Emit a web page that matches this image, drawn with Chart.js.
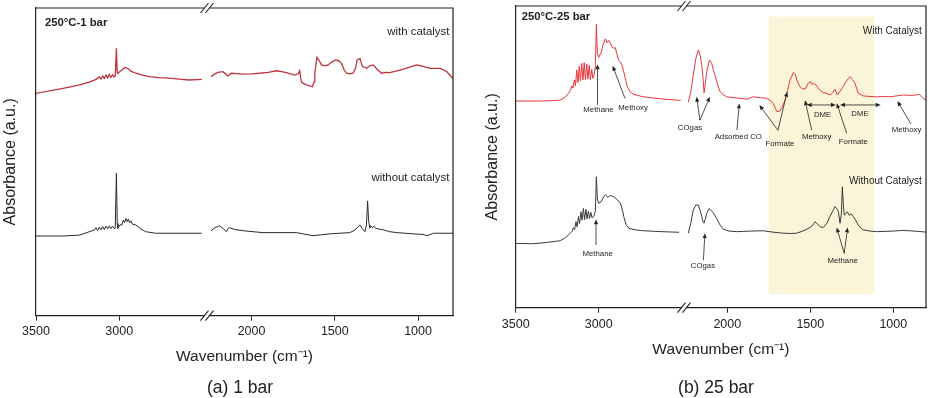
<!DOCTYPE html>
<html><head><meta charset="utf-8">
<script src="https://cdn.jsdelivr.net/npm/chart.js@4.4.1/dist/chart.umd.min.js"></script>
<style>
html,body{margin:0;padding:0;background:#fff;}
#wrap{position:relative;width:933px;height:398px;overflow:hidden;background:#fff;}
canvas{position:absolute;top:0;}
#cA{left:0;} #cB{left:470px;}
.cap{position:absolute;font-family:"Liberation Sans",Arial,Helvetica,sans-serif;font-size:17.5px;color:#222;transform:translate(-50%,-50%);white-space:nowrap;line-height:1;}
</style></head><body>
<div id="wrap">
<canvas id="cA" width="470" height="398"></canvas>
<canvas id="cB" width="463" height="398"></canvas>
<div class="cap" style="left:240px;top:388px">(a) 1 bar</div>
<div class="cap" style="left:716px;top:388px">(b) 25 bar</div>
</div>
<script>
const FONT = '"Liberation Sans", Arial, Helvetica, sans-serif';
Chart.defaults.font.family = FONT;

const tickWavenumbers = [3500, 3000, 2000, 1500, 1000];

// ---- Panel (a) 250°C-1 bar ----
const aCatHiWn = [3500,3496,3337,3238,3180,3139,3120,3110,3100,3090,3080,3070,3060,3050,3040,3030,3024,3017,3012,3008,2990,2975,2960,2945,2930,2901,2860,2821,2760,2702,2640,2583,2504];
const aCatHiAbs = [72.2,72.3,73.9,75.0,75.9,76.8,77.6,76.9,77.9,77.1,78.2,77.3,78.4,77.5,78.3,77.6,78.0,86.9,79.0,78.8,79.6,80.3,80.7,80.2,79.5,78.8,78.2,77.7,77.4,77.2,76.9,76.6,76.8];
const aCatLoWn = [2243,2220,2203,2173,2155,2143,2122,2090,2052,2000,1952,1900,1851,1820,1791,1760,1741,1720,1711,1701,1690,1670,1634,1625,1620,1607,1595,1580,1560,1540,1515,1494,1475,1460,1445,1430,1410,1390,1375,1366,1349,1340,1333,1320,1309,1290,1269,1245,1219,1195,1169,1140,1108,1060,1008,970,928,867,827,797,790];
const aCatLoAbs = [77.7,78.6,79.1,79.3,78.6,77.9,78.8,78.7,78.5,78.6,78.8,79.1,79.6,79.3,79.0,78.5,78.2,78.6,79.6,76.0,75.5,75.0,74.4,76.0,78.8,84.0,83.0,81.5,81.2,81.5,82.6,83.1,82.8,82.0,80.0,78.8,78.6,78.8,80.5,83.1,83.6,82.0,80.9,80.8,80.4,81.2,81.5,80.0,78.8,79.1,79.0,79.4,79.8,80.6,81.5,81.0,80.4,80.4,79.3,77.5,77.0];
const aNoHiWn = [3500,3496,3337,3238,3179,3150,3140,3130,3120,3110,3100,3090,3080,3070,3060,3050,3040,3030,3024,3017,3012,3008,2995,2985,2975,2968,2960,2952,2945,2938,2930,2920,2901,2870,2841,2782,2700,2600,2504];
const aNoHiAbs = [25.9,25.9,25.9,26.2,27.3,27.8,28.6,27.7,28.8,27.9,29.0,28.0,29.1,28.2,29.2,28.3,29.1,28.3,28.4,46.3,30.0,28.4,29.6,29.4,31.1,30.2,31.6,30.6,31.4,30.2,30.8,29.7,29.5,28.2,27.3,26.8,26.8,26.8,26.8];
const aNoLoWn = [2243,2220,2193,2170,2152,2140,2133,2100,2032,1932,1830,1731,1680,1631,1580,1530,1470,1410,1380,1349,1335,1319,1310,1303,1297,1290,1285,1275,1265,1255,1209,1170,1128,1028,970,948,930,908,807,790];
const aNoLoAbs = [27.6,28.6,29.2,28.3,27.3,28.4,28.6,28.0,27.5,27.0,27.0,27.0,26.5,26.0,26.3,26.6,26.8,27.0,27.8,29.5,28.3,27.3,29.5,37.3,31.0,28.4,29.3,28.6,29.1,28.4,27.9,27.3,27.0,26.6,26.4,26.0,26.3,26.8,26.8,26.8];

// ---- Panel (b) 250°C-25 bar ----
const bCatHiWn = [3500,3494,3400,3333,3232,3200,3182,3170,3162,3155,3147,3140,3132,3125,3117,3110,3102,3095,3087,3080,3072,3065,3057,3050,3042,3035,3028,3020,3014,3008,3000,2990,2985,2975,2960,2950,2940,2929,2920,2910,2900,2889,2880,2870,2860,2849,2835,2828,2810,2788,2740,2687,2600,2506];
const bCatHiAbs = [68.5,68.5,68.5,68.5,68.8,69.8,71.1,72.0,73.5,72.8,75.5,73.6,78.8,74.6,80.0,75.2,81.0,75.5,81.2,75.6,80.8,75.8,80.4,75.5,79.0,76.0,77.0,80.0,93.9,84.5,83.0,84.0,84.6,87.0,89.1,87.8,88.6,87.6,86.4,86.0,86.2,83.8,82.0,81.5,80.5,78.2,75.0,73.3,71.5,70.7,70.0,69.6,69.1,68.7];
const bCatLoWn = [2235,2220,2208,2190,2175,2165,2154,2145,2140,2132,2124,2108,2095,2084,2064,2044,2020,2004,1960,1924,1883,1860,1843,1800,1763,1740,1723,1710,1702,1687,1670,1652,1637,1622,1602,1590,1582,1565,1552,1532,1512,1500,1490,1482,1465,1452,1440,1422,1400,1382,1365,1351,1337,1320,1301,1290,1280,1270,1261,1245,1231,1211,1181,1140,1101,1060,1020,980,940,900,860,845,830,815,803];
const bCatLoAbs = [68.1,71.5,76.0,82.5,85.4,84.0,80.4,75.0,71.2,74.5,78.2,82.1,81.2,78.8,75.0,71.6,70.4,69.9,69.6,69.4,69.1,69.6,69.9,69.6,69.4,68.6,67.7,66.0,65.0,65.0,66.5,68.8,72.0,75.5,77.9,77.3,75.5,73.5,72.7,72.4,74.4,75.0,74.0,74.4,73.8,72.7,72.0,71.3,71.0,70.5,71.3,72.4,70.5,71.8,73.3,74.5,75.2,76.0,76.6,75.6,74.4,71.1,70.2,70.0,69.9,70.0,69.9,70.2,70.5,70.4,70.5,70.8,69.9,69.2,68.8];
const bNoHiWn = [3500,3494,3400,3333,3232,3200,3171,3160,3152,3145,3137,3130,3122,3115,3107,3100,3092,3085,3077,3070,3062,3055,3047,3040,3030,3020,3014,3008,3000,2986,2970,2960,2945,2930,2909,2890,2869,2855,2849,2835,2818,2780,2728,2620,2516];
const bNoHiAbs = [21.3,21.3,21.2,21.5,22.2,23.2,24.7,25.3,26.5,25.9,28.5,26.8,30.2,27.9,31.8,29.0,32.9,29.2,32.6,29.4,32.0,29.6,31.6,29.8,30.2,32.0,43.4,36.0,34.6,35.1,36.8,37.4,36.6,37.2,36.8,35.9,34.6,32.0,30.2,27.5,26.3,25.8,25.5,25.2,25.0];
const bNoLoWn = [2235,2220,2205,2190,2175,2162,2154,2145,2140,2132,2124,2110,2104,2085,2064,2044,2024,1990,1943,1860,1783,1720,1663,1620,1582,1550,1522,1495,1480,1472,1455,1440,1422,1400,1382,1365,1351,1340,1331,1321,1313,1307,1301,1295,1285,1277,1265,1255,1241,1225,1211,1195,1181,1140,1101,1000,950,900,850,810,803];
const bNoLoAbs = [24.7,28.0,32.4,34.0,34.0,32.0,30.2,28.3,28.0,29.5,31.3,32.8,32.6,31.5,29.6,27.4,26.0,25.4,25.2,25.4,25.5,25.0,24.7,24.6,24.7,25.3,26.0,26.8,27.8,28.5,27.6,26.8,26.6,28.0,30.2,32.0,33.5,32.8,31.8,28.0,31.0,40.1,34.0,30.7,31.2,31.8,30.6,31.1,30.2,28.8,27.4,26.4,25.8,25.4,25.2,25.4,25.6,25.5,25.3,25.1,25.0];

// Annotations of panel (b): label texts and their anchor (wavenumber, absorbance)
const bLabelText = ['Methane','Methoxy','COgas','Adsorbed CO','Formate','Methoxy','DME','Formate','DME','Methoxy','Methane','COgas','Methane'];
const bLabelWn = [3001,2793,2225,1934,1683,1462,1426,1241,1201,920,3006,2147,1305];
const bLabelAbs = [65.5,66.1,59.5,56.7,54.3,56.5,63.9,55.0,64.4,59.1,18.0,13.8,15.5];
// arrows: [tailWn, tailAbs, tipWn, tipAbs]
const bArrows = [
  [3007,67.2,3007,80.7],
  [2842,69.4,2916,80.2],
  [2165,62.2,2185,69.9],
  [2165,62.2,2105,69.9],
  [1942,58.9,1928,67.7],
  [1695,58.8,1807,67.2],
  [1695,58.8,1639,71.6],
  [1492,58.9,1532,68.8],
  [1281,57.8,1341,67.8],
  [894,60.9,975,68.5],
  [3016,20.8,3016,29.3],
  [2144,15.8,2135,24.7],
  [1296,18.0,1341,26.6],
  [1296,18.0,1275,26.6]
];
// double-headed spans: [fromWn, toWn, abs]
const bSpans = [[1522,1346,67.2],[1321,1076,67.2]];
// shaded band: wavenumber range and absorbance range
const bShadeWn = [1750,1115];
const bShadeAbs = [4.5,96.5];

function drawArrow(ctx, x1, y1, x2, y2) {
  const a = Math.atan2(y2 - y1, x2 - x1), L = 5, W = 2.1;
  const bx = x2 - L * Math.cos(a), by = y2 - L * Math.sin(a);
  ctx.beginPath(); ctx.moveTo(x1, y1); ctx.lineTo(bx, by); ctx.stroke();
  ctx.beginPath(); ctx.moveTo(x2, y2);
  ctx.lineTo(bx - W * Math.sin(a), by + W * Math.cos(a));
  ctx.lineTo(bx + W * Math.sin(a), by - W * Math.cos(a));
  ctx.closePath(); ctx.fill();
}

function makePanel(canvasId, p) {
  const toT = w => (w > 2350 ? w - p.gap : w);
  const fromT = t => Math.round(t > p.breakT ? t + p.gap : t);
  const series = (hiWn, hiAbs, loWn, loAbs) => {
    const pts = hiWn.map((w, i) => ({x: toT(w), y: hiAbs[i]}));
    pts.push({x: p.breakT, y: null});
    loWn.forEach((w, i) => pts.push({x: toT(w), y: loAbs[i]}));
    return pts;
  };
  const decor = {
    id: 'decor_' + canvasId,
    beforeDatasetsDraw(chart) {
      if (!p.shade) return;
      const {ctx, scales: {x, y}} = chart;
      const xa = x.getPixelForValue(toT(p.shade.wn[0])), xb = x.getPixelForValue(toT(p.shade.wn[1]));
      const ya = y.getPixelForValue(p.shade.abs[1]), yb = y.getPixelForValue(p.shade.abs[0]);
      ctx.save(); ctx.fillStyle = '#FAF5D8';
      ctx.fillRect(Math.min(xa, xb), ya, Math.abs(xb - xa), yb - ya); ctx.restore();
    },
    afterDatasetsDraw(chart) {
      if (!p.labels) return;
      const {ctx, scales: {x, y}} = chart;
      const px = w => x.getPixelForValue(toT(w)), py = v => y.getPixelForValue(v);
      ctx.save();
      ctx.strokeStyle = '#222'; ctx.fillStyle = '#222'; ctx.lineWidth = 0.8;
      p.arrows.forEach(a => drawArrow(ctx, px(a[0]), py(a[1]), px(a[2]), py(a[3])));
      p.spans.forEach(s => {
        const xa = px(s[0]), xb = px(s[1]), yy = py(s[2]), xm = (xa + xb) / 2;
        drawArrow(ctx, xm, yy, xa, yy); drawArrow(ctx, xm, yy, xb, yy);
      });
      ctx.font = '7.8px ' + FONT; ctx.textAlign = 'center'; ctx.textBaseline = 'middle';
      p.labels.text.forEach((t, i) => ctx.fillText(t, px(p.labels.wn[i]), py(p.labels.abs[i])));
      ctx.restore();
    },
    afterDraw(chart) {
      const {ctx, chartArea: ca, scales: {x}} = chart;
      ctx.save();
      ctx.strokeStyle = '#222'; ctx.lineWidth = 1.2;
      ctx.beginPath(); ctx.moveTo(ca.left, ca.top); ctx.lineTo(ca.right, ca.top); ctx.lineTo(ca.right, ca.bottom); ctx.stroke();
      const bx = x.getPixelForValue(p.breakT);
      [ca.top, ca.bottom].forEach(yy => {
        ctx.fillStyle = '#fff'; ctx.fillRect(bx - 2.5, yy - 1.5, 5, 3);
        ctx.lineWidth = 1.1; ctx.strokeStyle = '#222';
        ctx.beginPath(); ctx.moveTo(bx - 6.5, yy + 5); ctx.lineTo(bx + 1.5, yy - 5);
        ctx.moveTo(bx - 1.5, yy + 5); ctx.lineTo(bx + 6.5, yy - 5); ctx.stroke();
      });
      ctx.fillStyle = '#222'; ctx.textBaseline = 'middle';
      ctx.font = 'bold 11.3px ' + FONT; ctx.textAlign = 'left';
      ctx.fillText(p.tag, ca.left + p.tagDx, ca.top + p.tagDy);
      ctx.font = p.sideSize + 'px ' + FONT; ctx.textAlign = 'right';
      ctx.fillText(p.catText, ca.right - p.sideDx, ca.top + p.catDy);
      ctx.fillText(p.noText, ca.right - p.sideDx, ca.top + p.noDy);
      ctx.restore();
    }
  };
  return new Chart(document.getElementById(canvasId), {
    type: 'line',
    data: {
      datasets: [
        {data: series(p.noHiWn, p.noHiAbs, p.noLoWn, p.noLoAbs), borderColor: p.noColor, borderWidth: 1, pointRadius: 0, tension: 0, spanGaps: false, fill: false},
        {data: series(p.catHiWn, p.catHiAbs, p.catLoWn, p.catLoAbs), borderColor: p.catColor, borderWidth: p.catWidth, pointRadius: 0, tension: 0, spanGaps: false, fill: false}
      ]
    },
    options: {
      responsive: false, animation: false, devicePixelRatio: 1, events: [],
      layout: {padding: {top: p.padTop, right: p.padRight, bottom: 0, left: 0}},
      plugins: {legend: {display: false}, tooltip: {enabled: false}, title: {display: false}},
      scales: {
        x: {
          type: 'linear', reverse: true, min: p.tMin, max: p.tMax,
          afterBuildTicks: s => { s.ticks = tickWavenumbers.map(w => ({value: toT(w)})); },
          afterFit: s => { s.height = p.xHeight; },
          ticks: {autoSkip: false, maxRotation: 0, minRotation: 0, padding: p.tickPad, color: '#222',
                  font: {family: FONT, size: 12.5}, callback: v => String(fromT(v))},
          grid: {display: true, drawOnChartArea: false, drawTicks: true, tickLength: 5, color: '#222', lineWidth: 1},
          border: {display: true, color: '#222', width: 1.2},
          title: {display: true, text: 'Wavenumber (cm⁻¹)', color: '#222', font: {family: FONT, size: 15.5},
                  padding: {top: 0, bottom: p.titlePad}}
        },
        y: {
          type: 'linear', min: 0, max: 100,
          afterFit: s => { s.width = p.yWidth; },
          ticks: {display: false},
          grid: {display: false},
          border: {display: true, color: '#222', width: 1.2},
          title: {display: true, text: 'Absorbance (a.u.)', color: '#222', font: {family: FONT, size: 16},
                  padding: {top: p.yTitlePad, bottom: 0}}
        }
      }
    },
    plugins: [decor]
  });
}

makePanel('cA', {
  gap: 205, tMin: 790, tMax: 3295, breakT: 2268,
  padTop: 8, padRight: 17, xHeight: 82.3, yWidth: 36, tickPad: 3.5, titlePad: 32, yTitlePad: 1,
  catHiWn: aCatHiWn, catHiAbs: aCatHiAbs, catLoWn: aCatLoWn, catLoAbs: aCatLoAbs,
  noHiWn: aNoHiWn, noHiAbs: aNoHiAbs, noLoWn: aNoLoWn, noLoAbs: aNoLoAbs,
  catColor: '#BE343B', catWidth: 1.3, noColor: '#2a2a2a',
  tag: '250°C-1 bar', tagDx: 9, tagDy: 15.3,
  catText: 'with catalyst', noText: 'without catalyst', sideSize: 11.4, sideDx: 3.7, catDy: 24.3, noDy: 170.3
});

makePanel('cB', {
  gap: 225, tMin: 803, tMax: 3275, breakT: 2261,
  padTop: 6, padRight: 7, xHeight: 90.3, yWidth: 45.7, tickPad: 4, titlePad: 39.4, yTitlePad: 13.4,
  catHiWn: bCatHiWn, catHiAbs: bCatHiAbs, catLoWn: bCatLoWn, catLoAbs: bCatLoAbs,
  noHiWn: bNoHiWn, noHiAbs: bNoHiAbs, noLoWn: bNoLoWn, noLoAbs: bNoLoAbs,
  catColor: '#E8353C', catWidth: 1, noColor: '#3a3a3a',
  tag: '250°C-25 bar', tagDx: 6, tagDy: 10.7,
  catText: 'With Catalyst', noText: 'Without Catalyst', sideSize: 10, sideDx: 4.3, catDy: 25.7, noDy: 175.7,
  shade: {wn: bShadeWn, abs: bShadeAbs},
  labels: {text: bLabelText, wn: bLabelWn, abs: bLabelAbs},
  arrows: bArrows, spans: bSpans
});
</script>
</body></html>
